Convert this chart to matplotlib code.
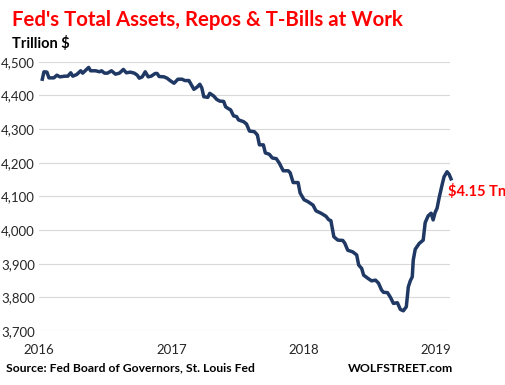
import matplotlib
matplotlib.use("Agg")
import matplotlib.pyplot as plt

# Decimal-year positions and Fed total assets (billion $)
years = [2016.025, 2016.0375, 2016.060, 2016.075, 2016.1125, 2016.135, 2016.1575, 2016.195,
         2016.2175, 2016.240, 2016.255, 2016.285, 2016.315, 2016.330, 2016.375, 2016.390,
         2016.4275, 2016.4575, 2016.4725, 2016.495, 2016.5175, 2016.5475, 2016.5775, 2016.6075,
         2016.6375, 2016.660, 2016.690, 2016.720, 2016.7425, 2016.7575, 2016.780, 2016.8025,
         2016.825, 2016.8475, 2016.8775, 2016.8925, 2016.9075, 2016.945, 2016.9675, 2016.990,
         2017.020, 2017.050, 2017.080, 2017.1025, 2017.1325, 2017.140, 2017.170, 2017.1925,
         2017.215, 2017.230, 2017.245, 2017.275, 2017.290, 2017.320, 2017.3425, 2017.365,
         2017.395, 2017.410, 2017.4325, 2017.4475, 2017.470, 2017.4925, 2017.5075, 2017.545,
         2017.5675, 2017.590, 2017.6275, 2017.650, 2017.665, 2017.695, 2017.710, 2017.740,
         2017.7625, 2017.7925, 2017.815, 2017.845, 2017.8825, 2017.8975, 2017.920, 2017.9575,
         2017.9725, 2018.0025, 2018.0325, 2018.070, 2018.0925, 2018.130, 2018.1675, 2018.190,
         2018.205, 2018.2275, 2018.2575, 2018.295, 2018.310, 2018.3325, 2018.370, 2018.400,
         2018.415, 2018.4375, 2018.4525, 2018.4825, 2018.5125, 2018.5425, 2018.565, 2018.5875,
         2018.6025, 2018.6325, 2018.655, 2018.6775, 2018.7075, 2018.730, 2018.7525, 2018.775,
         2018.790, 2018.805, 2018.820, 2018.8275, 2018.8425, 2018.8725, 2018.9025, 2018.9175,
         2018.940, 2018.9625, 2018.9775, 2018.9925, 2019.0075, 2019.0225, 2019.045, 2019.060,
         2019.0825, 2019.0975, 2019.1125]
assets = [4448, 4470, 4469, 4452, 4452, 4460, 4455, 4457,
          4457, 4467, 4457, 4462, 4473, 4466, 4483, 4473,
          4473, 4470, 4473, 4466, 4466, 4473, 4463, 4466,
          4477, 4467, 4469, 4466, 4460, 4451, 4455, 4470,
          4455, 4457, 4465, 4465, 4456, 4455, 4451, 4444,
          4436, 4448, 4448, 4444, 4444, 4439, 4418, 4424,
          4433, 4422, 4396, 4394, 4406, 4398, 4388, 4383,
          4382, 4366, 4360, 4357, 4339, 4337, 4327, 4322,
          4315, 4294, 4292, 4282, 4253, 4253, 4229, 4225,
          4214, 4212, 4199, 4176, 4176, 4170, 4141, 4141,
          4110, 4090, 4084, 4074, 4057, 4050, 4041, 4030,
          4028, 3980, 3970, 3969, 3961, 3940, 3935, 3926,
          3896, 3886, 3866, 3857, 3849, 3851, 3842, 3822,
          3815, 3814, 3800, 3782, 3784, 3764, 3760, 3772,
          3831, 3849, 3861, 3911, 3943, 3960, 3970, 4022,
          4042, 4050, 4030, 4052, 4065, 4095, 4134, 4158,
          4173, 4166, 4152]

y_ticks = [3700, 3800, 3900, 4000, 4100, 4200, 4300, 4400, 4500]
y_labels = ["3,700", "3,800", "3,900", "4,000", "4,100", "4,200", "4,300", "4,400", "4,500"]
x_ticks = [2016, 2017, 2018, 2019]
x_labels = ["2016", "2017", "2018", "2019"]

W, H = 506, 385
fig = plt.figure(figsize=(W / 100, H / 100), dpi=100)
fig.patch.set_facecolor("white")
ax = fig.add_axes([39 / W, 1 - 331 / H, (450 - 39) / W, (331 - 61.7) / H])

ax.plot(years, assets, color="#1F3864", lw=2.5, clip_on=False, solid_joinstyle="round")
ax.set_xlim(2016.0225, 2019.105)
ax.set_ylim(3700, 4500)
ax.set_yticks(y_ticks)
ax.set_yticklabels(y_labels)
ax.set_xticks(x_ticks)
ax.set_xticklabels(x_labels)
ax.grid(axis="y", color="#D9D9D9", lw=0.8)
ax.set_axisbelow(True)
for s in ax.spines.values():
    s.set_visible(False)
ax.tick_params(axis="both", length=0, labelsize=9.5, labelcolor="#262626")
ax.tick_params(axis="y", pad=3)
ax.tick_params(axis="x", pad=9)
for lab in ax.get_xticklabels() + ax.get_yticklabels():
    lab.set_fontfamily("Lato")

def px(x, y):
    return x / W, 1 - y / H

fig.text(*px(12, 20), "Fed's Total Assets, Repos & T-Bills at Work", color="#FF0000",
         fontsize=14.7, fontweight="bold", family="Lato", va="center", ha="left")
fig.text(*px(12, 43), "Trillion $", color="black", fontsize=10.5, fontweight="bold",
         family="Lato", va="center", ha="left")
fig.text(*px(448, 191), "$4.15 Tn", color="#FF0000", fontsize=10.5, fontweight="bold",
         family="Lato", va="center", ha="left")
fig.text(*px(6, 368), "Source: Fed Board of Governors, St. Louis Fed", color="black",
         fontsize=8.7, fontweight="bold", family="Lato", va="center", ha="left")
fig.text(*px(453, 368), "WOLFSTREET.com", color="black", fontsize=8.8, fontweight="bold",
         family="Lato", va="center", ha="right")

fig.savefig("out.png", dpi=100)
